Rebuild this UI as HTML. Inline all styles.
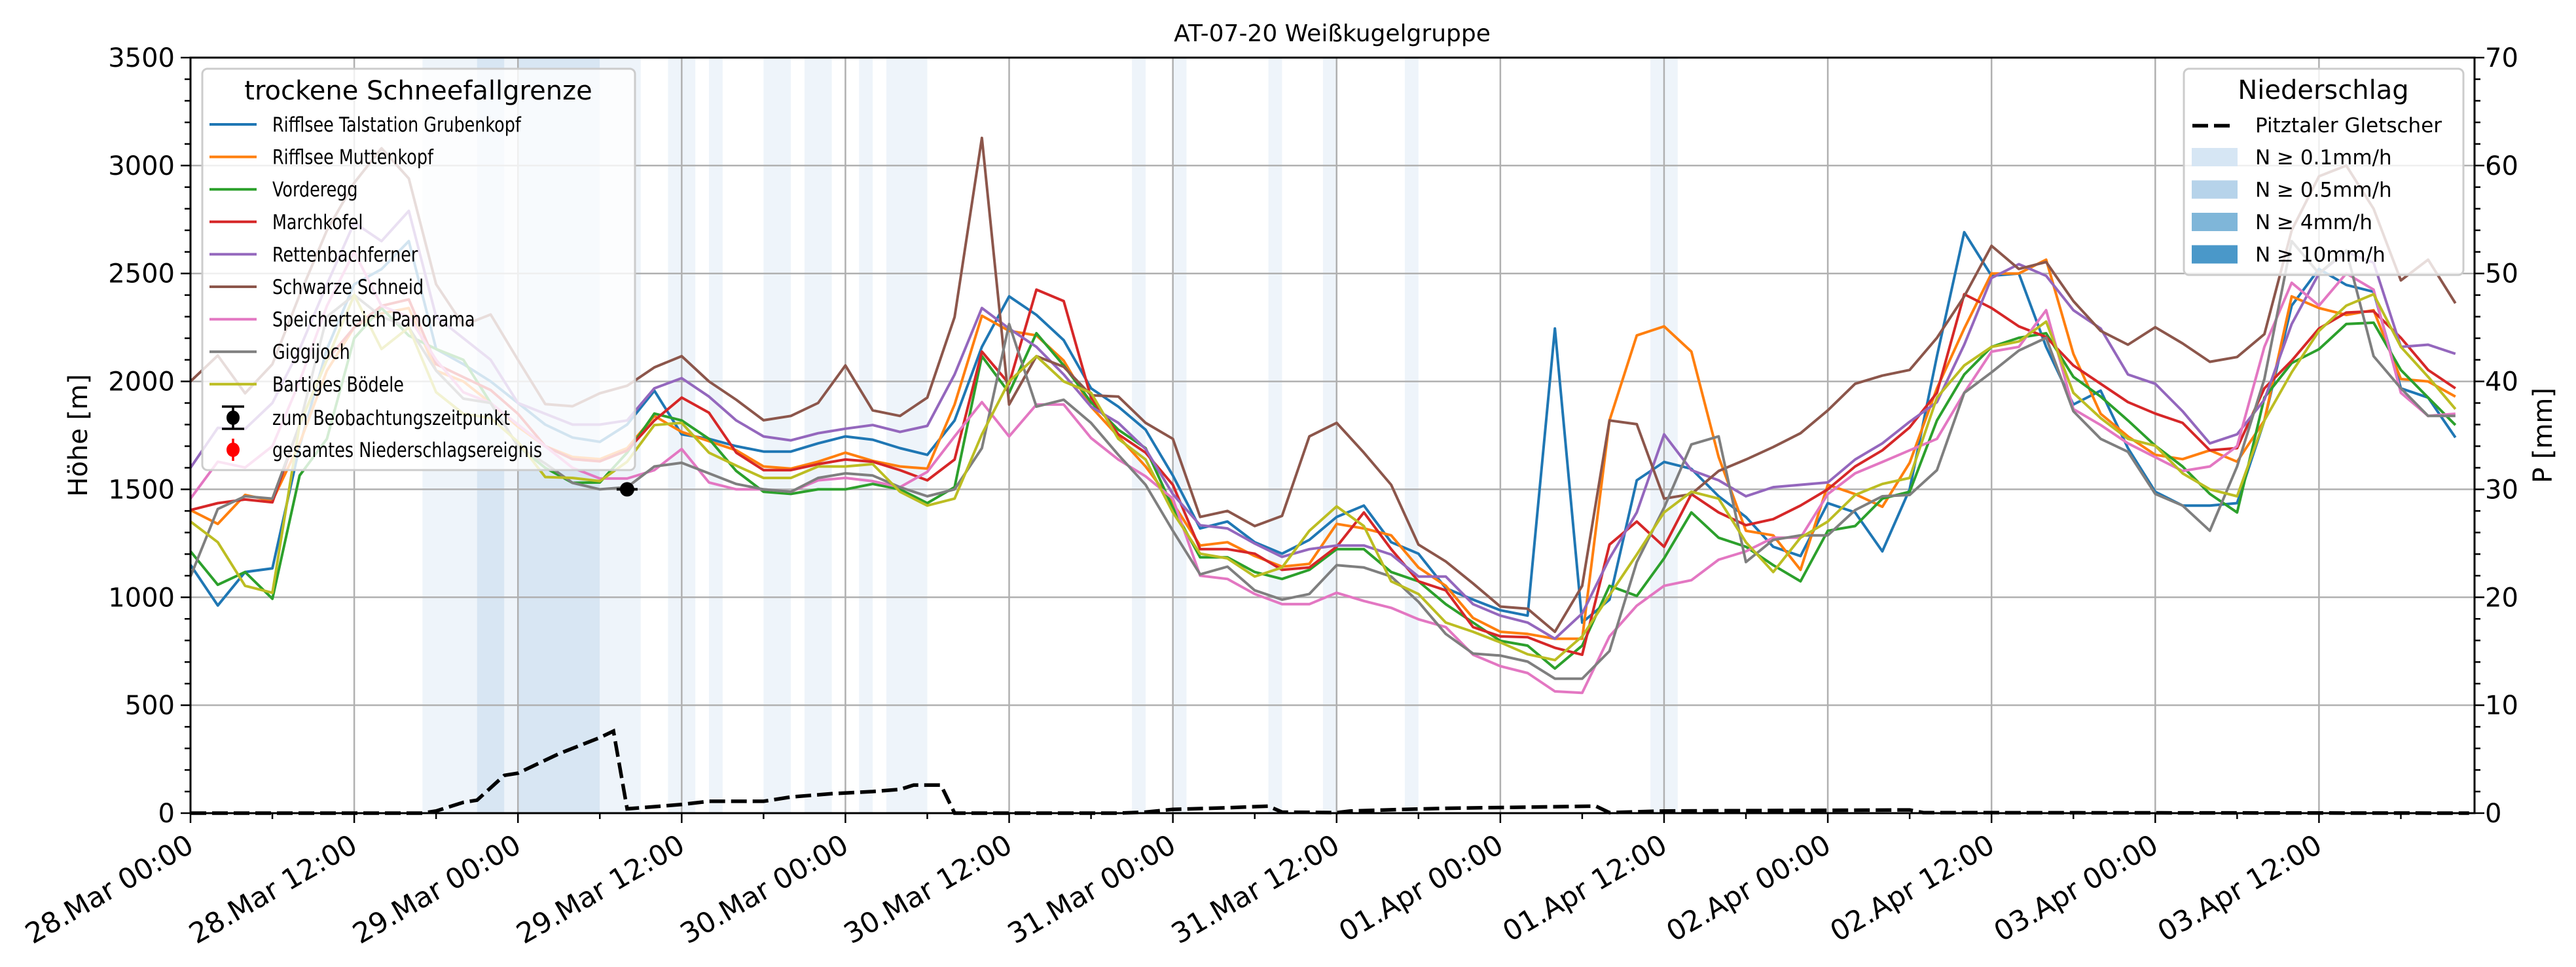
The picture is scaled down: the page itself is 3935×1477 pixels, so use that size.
<!DOCTYPE html>
<html><head><meta charset="utf-8"><style>
html,body{margin:0;padding:0;background:#fff;}
svg{display:block;font-family:"DejaVu Sans","Liberation Sans",sans-serif;}
</style></head><body>
<svg id="chart" xmlns="http://www.w3.org/2000/svg" width="3935" height="1477" viewBox="0 0 3935 1477">
<rect x="0" y="0" width="3935" height="1477" fill="#fff"/>
<g id="bands"></g>
<g id="grid"></g>
<g id="series"></g>
<g id="axes"></g>
<text x="2035" y="63" font-size="36" text-anchor="middle">AT-07-20 Weißkugelgruppe</text>
<text transform="translate(133,665) rotate(-90)" font-size="40" text-anchor="middle">Höhe [m]</text>
<text transform="translate(3898,665) rotate(-90)" font-size="40" text-anchor="middle">P [mm]</text>
<g id="legend-left"></g>
<g id="legend-right"></g>
</svg>
<script>
const hours = [];
for (let h = 0; h <= 166; h += 2) hours.push(h);
const seriesNames = ["Rifflsee Talstation Grubenkopf","Rifflsee Muttenkopf","Vorderegg","Marchkofel","Rettenbachferner","Schwarze Schneid","Speicherteich Panorama","Giggijoch","Bartiges Bödele"];
const seriesColors = ["#1f77b4","#ff7f0e","#2ca02c","#d62728","#9467bd","#8c564b","#e377c2","#7f7f7f","#bcbd22"];
const blue = [1150,962,1117,1134,1700,2150,2450,2520,2650,2150,2080,2000,1900,1800,1740,1720,1800,1957,1755,1734,1700,1675,1675,1713,1745,1730,1691,1660,1819,2160,2394,2308,2191,1968,1883,1776,1564,1319,1351,1255,1202,1266,1372,1425,1255,1202,1042,989,940,915,2245,883,989,1542,1627,1595,1468,1372,1234,1191,1436,1393,1213,1500,2117,2691,2489,2500,2160,1893,1957,1691,1489,1425,1425,1436,1819,2351,2521,2447,2415,1968,1925,1740];
const orange = [1404,1340,1474,1447,1713,2050,2250,2315,2340,2050,2000,1900,1790,1700,1650,1640,1691,1840,1766,1723,1681,1606,1596,1628,1670,1632,1606,1596,1893,2304,2234,2213,2096,1883,1745,1606,1436,1240,1255,1191,1142,1155,1340,1319,1287,1138,1053,904,840,830,808,808,1819,2213,2255,2138,1650,1308,1287,1127,1521,1478,1419,1623,1968,2245,2500,2500,2564,2128,1850,1745,1660,1640,1681,1628,1819,2394,2340,2308,2330,2011,2000,1930];
const green = [1213,1058,1117,993,1564,1734,2200,2340,2212,2150,2100,1900,1700,1600,1530,1532,1670,1851,1819,1734,1585,1489,1479,1500,1500,1525,1500,1436,1510,2117,1947,2223,2074,1904,1776,1691,1415,1185,1185,1117,1085,1127,1223,1223,1117,1074,968,883,798,776,670,776,1053,1006,1180,1393,1276,1234,1149,1074,1308,1330,1457,1489,1819,2032,2160,2202,2223,2021,1930,1819,1702,1606,1479,1393,1925,2085,2149,2266,2272,2053,1925,1798];
const red = [1404,1436,1453,1440,1800,2100,2250,2350,2380,2080,2020,1960,1850,1700,1640,1630,1680,1819,1925,1855,1670,1589,1589,1617,1638,1628,1589,1542,1638,2138,1989,2425,2372,1925,1755,1670,1521,1223,1223,1202,1127,1138,1234,1393,1223,1074,1032,862,819,815,766,734,1244,1351,1234,1478,1393,1334,1362,1425,1500,1606,1681,1787,1947,2404,2340,2255,2206,2074,1989,1904,1851,1808,1681,1691,1968,2096,2245,2319,2325,2202,2053,1968];
const purple = [1600,1785,1780,1900,2150,2450,2735,2650,2790,2300,2200,2100,1900,1850,1800,1800,1819,1968,2015,1930,1819,1745,1727,1760,1781,1798,1766,1794,2032,2340,2245,2160,2032,1883,1808,1687,1478,1334,1319,1249,1187,1223,1240,1240,1198,1096,1096,968,915,883,808,925,1180,1393,1755,1589,1542,1468,1510,1521,1532,1638,1713,1813,1904,2170,2479,2543,2489,2330,2245,2032,1989,1862,1713,1755,1915,2266,2500,2600,2550,2160,2170,2128];
const brown = [2000,2120,1945,2080,2400,2700,2920,3080,2940,2450,2260,2310,2100,1895,1885,1945,1980,2065,2117,2000,1915,1820,1840,1900,2074,1866,1840,1925,2298,3128,1893,2117,2068,1936,1930,1808,1734,1372,1400,1330,1377,1745,1808,1670,1521,1244,1166,1064,957,947,840,1053,1819,1802,1457,1478,1585,1638,1696,1760,1866,1989,2027,2053,2202,2394,2628,2521,2553,2372,2234,2170,2251,2176,2091,2113,2219,2700,2950,3000,2800,2468,2564,2362];
const pink = [1457,1628,1601,1700,2000,2350,2600,2350,2300,2100,1950,1900,1800,1700,1600,1550,1550,1589,1687,1532,1500,1500,1489,1542,1553,1538,1510,1581,1745,1904,1745,1893,1893,1738,1638,1560,1457,1100,1085,1015,968,968,1021,983,951,898,862,734,681,649,564,557,819,961,1053,1079,1174,1213,1276,1276,1478,1574,1627,1681,1734,1947,2138,2160,2330,1872,1798,1713,1649,1585,1606,1700,2160,2457,2351,2500,2425,1947,1840,1850];
const gray = [1096,1409,1468,1457,1800,2300,2400,2300,2250,2050,1920,1900,1700,1620,1530,1500,1510,1606,1623,1574,1525,1500,1489,1553,1574,1564,1510,1468,1500,1691,2266,1883,1915,1808,1660,1521,1308,1106,1142,1032,989,1015,1149,1138,1096,979,830,739,730,702,623,623,751,1163,1415,1708,1745,1163,1266,1287,1287,1404,1468,1474,1589,1947,2042,2143,2202,1862,1734,1674,1479,1425,1308,1606,2011,2650,2500,2607,2117,1968,1840,1840];
const olive = [1351,1255,1053,1021,1800,2100,2400,2150,2250,1950,1850,1830,1720,1557,1553,1538,1628,1798,1808,1670,1610,1553,1553,1606,1606,1617,1489,1425,1457,1755,2000,2117,2000,1947,1734,1638,1393,1202,1180,1096,1138,1308,1421,1330,1074,1015,883,840,791,736,709,819,1010,1198,1393,1489,1457,1255,1117,1276,1351,1474,1525,1553,1925,2074,2160,2185,2277,1947,1830,1734,1702,1574,1500,1468,1819,2042,2234,2351,2404,2160,2021,1872];
const precipHours = [0,17,18,20,21,23,24,27,30,31,32,34,36,38,42,44,47,50,52,53,55,56,68,70,72,76,79,80,84,85,89,92,103,104,108,126,127,167];
const precipValues = [0,0,0.2,1.0,1.2,3.5,3.7,5.5,7.0,7.6,0.4,0.6,0.8,1.1,1.1,1.5,1.8,2.0,2.2,2.6,2.6,0,0,0.1,0.35,0.5,0.65,0.1,0.05,0.2,0.35,0.45,0.65,0.05,0.2,0.3,0.05,0];
const bandStarts = [17,21,23,24,30,35,38,42,45,49,51,69,72,79,83,89,107];
const bandEnds   = [21,23,24,30,33,37,39,44,47,50,54,70,73,80,84,90,109];
const bandLevels = [1,2,1,2,1,1,1,1,1,1,1,1,1,1,1,1,1];
const xTickLabels = ["28.Mar 00:00","28.Mar 12:00","29.Mar 00:00","29.Mar 12:00","30.Mar 00:00","30.Mar 12:00","31.Mar 00:00","31.Mar 12:00","01.Apr 00:00","01.Apr 12:00","02.Apr 00:00","02.Apr 12:00","03.Apr 00:00","03.Apr 12:00"];
const yTicks = [0,500,1000,1500,2000,2500,3000,3500];
const pTicks = [0,10,20,30,40,50,60,70];
const obsHour = [32];
const obsValue = [1500];

const NS = "http://www.w3.org/2000/svg";
const L = 291, R = 3780, T = 88, B = 1242, XMAX = 167.4;
function xs(h){ return L + h * (R - L) / XMAX; }
function ys(m){ return B - m * (B - T) / 3500; }
function ps(p){ return B - p * (B - T) / 70; }
function mk(tag, attrs, parent){
  const e = document.createElementNS(NS, tag);
  for (const k in attrs) e.setAttribute(k, attrs[k]);
  parent.appendChild(e);
  return e;
}
const bands = document.getElementById('bands');
bandStarts.forEach((s, i) => {
  const r = mk('rect', {x: xs(s), y: T, width: xs(bandEnds[i]) - xs(s), height: B - T, fill: bandLevels[i] === 2 ? '#d8e6f3' : '#eef4fa'}, bands);
  
  
});
const grid = document.getElementById('grid');
for (let i = 0; i < xTickLabels.length; i++) {
  const x = xs(i * 12);
  const g = mk('line', {x1: x, x2: x, y1: T, y2: B, stroke: '#b0b0b0', 'stroke-width': 2.5}, grid);
  
  
}
yTicks.forEach(v => {
  const y = ys(v);
  const g = mk('line', {x1: L, x2: R, y1: y, y2: y, stroke: '#b0b0b0', 'stroke-width': 2.5}, grid);
  
  
});
const sg = document.getElementById('series');
const allSeries = [blue, orange, green, red, purple, brown, pink, gray, olive];
allSeries.forEach((vals, si) => {
  const pts = vals.map((v, i) => xs(hours[i]).toFixed(1) + ',' + ys(v).toFixed(1)).join(' ');
  const pl = mk('polyline', {points: pts, fill: 'none', stroke: seriesColors[si], 'stroke-width': 4, 'stroke-linejoin': 'round'}, sg);
  
  
});
const ppts = precipHours.map((h, i) => xs(h).toFixed(1) + ',' + ps(precipValues[i]).toFixed(1)).join(' ');
const pline = mk('polyline', {points: ppts, fill: 'none', stroke: '#000', 'stroke-width': 5.5, 'stroke-dasharray': '24,9'}, sg);


obsHour.forEach((h, i) => {
  const eb = mk('line', {x1: xs(h) - 16, x2: xs(h) + 16, y1: ys(obsValue[i]), y2: ys(obsValue[i]), stroke: '#000', 'stroke-width': 4}, sg);
  
  
  const c = mk('circle', {cx: xs(h), cy: ys(obsValue[i]), r: 11, fill: '#000'}, sg);
  
  
});
const ax = document.getElementById('axes');
const frame = mk('rect', {x: L, y: T, width: R - L, height: B - T, fill: 'none', stroke: '#000', 'stroke-width': 3}, ax);


for (let h = 0; h <= 167; h += 6) {
  const major = h % 12 === 0;
  const t = mk('line', {x1: xs(h), x2: xs(h), y1: B, y2: B + (major ? 15 : 9), stroke: '#000', 'stroke-width': 2.5}, ax);
  
  
}
xTickLabels.forEach((lab, i) => {
  const x = xs(i * 12);
  const t = mk('text', {transform: 'translate(' + (x - 8) + ',1272) rotate(-30)', 'font-size': 43, 'text-anchor': 'end', 'dominant-baseline': 'hanging'}, ax);
  t.textContent = lab;
  
  
});
for (let m = 0; m <= 3500; m += 100) {
  const major = m % 500 === 0;
  const t = mk('line', {x1: L - (major ? 15 : 9), x2: L, y1: ys(m), y2: ys(m), stroke: '#000', 'stroke-width': 2.5}, ax);
  
  
}
yTicks.forEach(v => {
  const t = mk('text', {x: L - 24, y: ys(v) + 14, 'font-size': 40, 'text-anchor': 'end'}, ax);
  t.textContent = v;
  
  
});
for (let p = 0; p <= 70; p += 2) {
  const major = p % 10 === 0;
  const t = mk('line', {x1: R, x2: R + (major ? 15 : 9), y1: ps(p), y2: ps(p), stroke: '#000', 'stroke-width': 2.5}, ax);
  
  
}
pTicks.forEach(v => {
  const t = mk('text', {x: R + 16, y: ps(v) + 14, 'font-size': 40, 'text-anchor': 'start'}, ax);
  t.textContent = v;
  
  
});
const lg = document.getElementById('legend-left');
const lbox = mk('rect', {x: 309, y: 105, width: 661, height: 613, rx: 8, fill: 'rgba(255,255,255,0.8)', stroke: '#cccccc', 'stroke-width': 3}, lg);


const lt = mk('text', {x: 639, y: 152, 'font-size': 40, 'text-anchor': 'middle'}, lg);
lt.textContent = 'trockene Schneefallgrenze';


const LSX = 0.82;
function legText(label, y, parent) {
  const t = mk('text', {transform: 'translate(416,' + (y + 11) + ') scale(' + LSX + ',1)', x: 0, y: 0, 'font-size': 31}, parent);
  t.textContent = label;
  
  
  return t;
}
seriesNames.forEach((n, i) => {
  const y = 190 + i * 49.6;
  const ln = mk('line', {x1: 320, x2: 392, y1: y, y2: y, stroke: seriesColors[i], 'stroke-width': 4}, lg);
  
  
  legText(n, y, lg);
});
{
  const y1 = 638, y2 = 687;
  const a = mk('line', {x1: 356, x2: 356, y1: y1 - 17, y2: y1 + 17, stroke: '#000', 'stroke-width': 3.5}, lg);
  
  
  const c1 = mk('line', {x1: 339, x2: 373, y1: y1 - 17, y2: y1 - 17, stroke: '#000', 'stroke-width': 3.5}, lg);
  
  
  const c2 = mk('line', {x1: 339, x2: 373, y1: y1 + 17, y2: y1 + 17, stroke: '#000', 'stroke-width': 3.5}, lg);
  
  
  const d1 = mk('ellipse', {cx: 356, cy: y1, rx: 10, ry: 11, fill: '#000'}, lg);
  
  
  legText('zum Beobachtungszeitpunkt', y1, lg);
  const b = mk('line', {x1: 356, x2: 356, y1: y2 - 17, y2: y2 + 17, stroke: '#ff0000', 'stroke-width': 3.5}, lg);
  
  
  const d2 = mk('ellipse', {cx: 356, cy: y2, rx: 10, ry: 11, fill: '#ff0000'}, lg);
  
  
  legText('gesamtes Niederschlagsereignis', y2, lg);
}
const rg = document.getElementById('legend-right');
const rbox = mk('rect', {x: 3336, y: 105, width: 427, height: 315, rx: 8, fill: 'rgba(255,255,255,0.8)', stroke: '#cccccc', 'stroke-width': 3}, rg);


const rt = mk('text', {x: 3549, y: 151, 'font-size': 40, 'text-anchor': 'middle'}, rg);
rt.textContent = 'Niederschlag';


const rl = mk('line', {x1: 3349, x2: 3410, y1: 192, y2: 192, stroke: '#000', 'stroke-width': 5.5, 'stroke-dasharray': '24,9'}, rg);


const rtx = mk('text', {x: 3445, y: 202, 'font-size': 31}, rg);
rtx.textContent = 'Pitztaler Gletscher';


const swColors = ['#d6e6f4', '#b6d3ea', '#7fb6d9', '#4a98c9'];
const swLabels = ['N ≥ 0.1mm/h', 'N ≥ 0.5mm/h', 'N ≥ 4mm/h', 'N ≥ 10mm/h'];
swLabels.forEach((lab, i) => {
  const y = 240 + i * 49.5;
  const s = mk('rect', {x: 3348, y: y - 14, width: 70, height: 28, fill: swColors[i]}, rg);
  
  
  const t = mk('text', {x: 3445, y: y + 11, 'font-size': 31}, rg);
  t.textContent = lab;
  
  
});
</script>
</body></html>
